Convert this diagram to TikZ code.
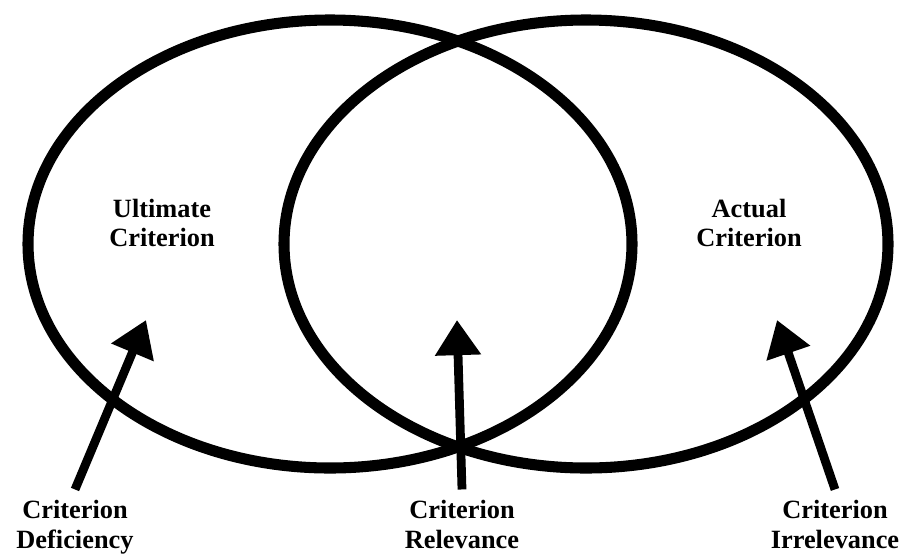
\documentclass[tikz,border=0pt]{standalone}
\usepackage{fontspec}
\setmainfont{Liberation Serif}
\usetikzlibrary{arrows.meta}

\tikzset{
    ring/.style={line width=6.3pt},
    pointer/.style={line width=5pt, -{Triangle[length=20pt,width=25pt]}},
    lbl/.style={align=center, font=\fontsize{15}{17}\selectfont\bfseries, inner sep=0pt}
}

\begin{document}
\begin{tikzpicture}[x=0.02cm, y=-0.02cm]
    \useasboundingbox (0, 0) rectangle (905, 555);

    % 两个椭圆
    \draw[ring] (330, 244) ellipse (302 and 224);
    \draw[ring] (586, 244) ellipse (302 and 224);

    % 椭圆内文字
    \node[lbl] (ult) at (162, 223) {Ultimate\\Criterion};
    \node[lbl] (act) at (749, 223) {Actual\\Criterion};

    % 底部文字
    \node[lbl, anchor=north] (def) at (75, 500) {Criterion\\Deficiency};
    \node[lbl, anchor=north] (rel) at (462, 500) {Criterion\\Relevance};
    \node[lbl, anchor=north] (irr) at (835, 500) {Criterion\\Irrelevance};

    % 箭头
    \coordinate (defTip) at (146, 320);
    \coordinate (relTip) at (457, 320);
    \coordinate (irrTip) at (777, 320);
    \draw[pointer] ([yshift=6pt]def.north) -- (defTip);
    \draw[pointer] ([yshift=6pt]rel.north) -- (relTip);
    \draw[pointer] ([yshift=6pt]irr.north) -- (irrTip);
\end{tikzpicture}
\end{document}
